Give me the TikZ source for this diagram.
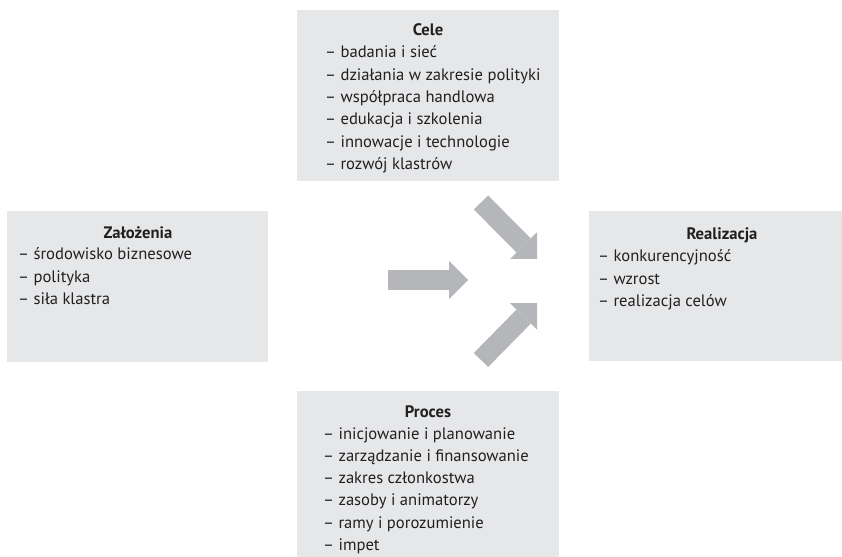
\documentclass[tikz,border=0pt]{standalone}
\usepackage{fontspec}
\setmainfont{PT Sans}
\usetikzlibrary{arrows.meta}
\definecolor{panelgray}{RGB}{230,231,232}
\definecolor{arrowgray}{RGB}{181,182,185}
\definecolor{ink}{RGB}{35,31,32}
\tikzset{
  panel/.style={fill=panelgray, draw=none, inner sep=0pt, anchor=north west},
  ttl/.style={font=\fontsize{16.6bp}{22.3bp}\selectfont\bfseries, text=ink, inner sep=0pt, anchor=base},
  lst/.style={font=\fontsize{16.6bp}{22.3bp}\selectfont, text=ink, inner sep=0pt, anchor=base west},
  bigarrow/.style={draw=arrowgray, line width=20bp, line cap=butt,
    -{Triangle[width=38bp,length=19bp,line width=0pt]}}
}
\begin{document}
\begin{tikzpicture}[x=1bp,y=-1bp]
\useasboundingbox (0,0) rectangle (842,557);
% panels
\node[panel, minimum width=262bp, minimum height=171bp] (cele) at (297,10) {};
\node[panel, minimum width=261bp, minimum height=151bp] (zal) at (7,211) {};
\node[panel, minimum width=253bp, minimum height=150bp] (real) at (589,211) {};
\node[panel, minimum width=262bp, minimum height=166bp] (proc) at (297,391) {};
% Cele
\node[ttl] (celet) at (428,36) {Cele};
\node[lst] (celel) at (325,58) {\vtop{\hbox{– badania i sieć}\hbox{– działania w zakresie polityki}\hbox{– współpraca handlowa}\hbox{– edukacja i szkolenia}\hbox{– innowacje i technologie}\hbox{– rozwój klastrów}}};
% Założenia
\node[ttl] (zalt) at (138,239) {Założenia};
\node[lst] (zall) at (18,260) {\vtop{\hbox{– środowisko biznesowe}\hbox{– polityka}\hbox{– siła klastra}}};
% Realizacja
\node[ttl] (realt) at (722,240) {Realizacja};
\node[lst] (reall) at (598,262) {\vtop{\hbox{– konkurencyjność}\hbox{– wzrost}\hbox{– realizacja celów}}};
% Proces
\node[ttl] (proct) at (428,417) {Proces};
\node[lst] (procl) at (323,439) {\vtop{\hbox{– inicjowanie i planowanie}\hbox{– zarządzanie i finansowanie}\hbox{– zakres członkostwa}\hbox{– zasoby i animatorzy}\hbox{– ramy i porozumienie}\hbox{– impet}}};
% arrows
\coordinate (a1s) at (388,280);
\coordinate (a1e) at (468,280);
\coordinate (a2s) at (481,202.5);
\coordinate (a2e) at (537,259);
\coordinate (a3s) at (481,360);
\coordinate (a3e) at (537,303);
\draw[bigarrow] (a1s) -- (a1e);
\draw[bigarrow] (a2s) -- (a2e);
\draw[bigarrow] (a3s) -- (a3e);
\end{tikzpicture}
\end{document}
